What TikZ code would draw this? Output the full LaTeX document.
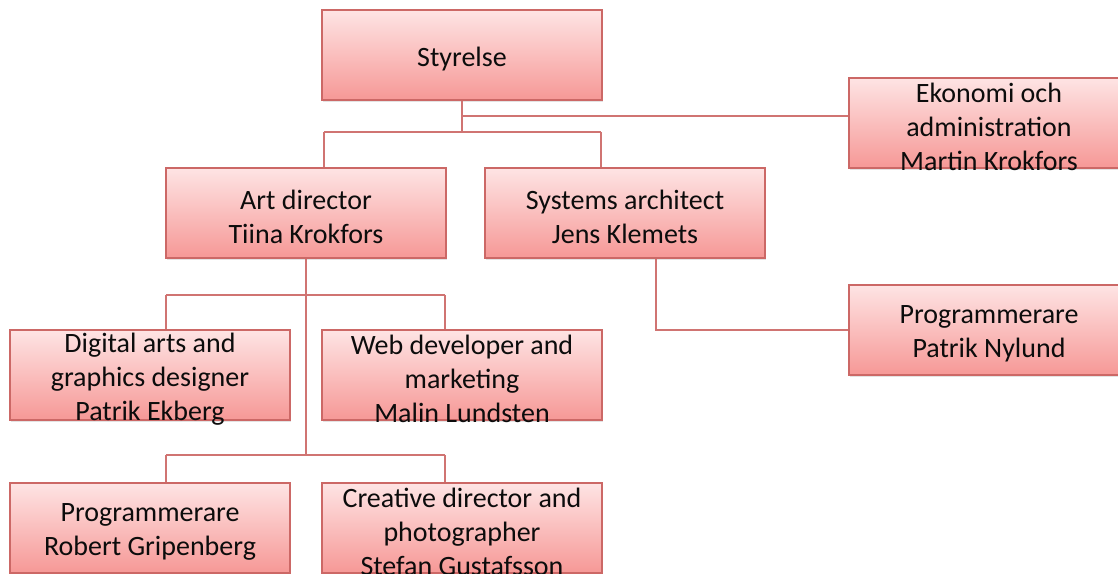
\documentclass[tikz,border=0pt]{standalone}
\usepackage{fontspec}
\setmainfont{Carlito}
\usetikzlibrary{shadows}
\definecolor{boxtop}{RGB}{254,228,228}
\definecolor{boxbot}{RGB}{246,152,150}
\definecolor{boxline}{RGB}{204,104,102}
\definecolor{connline}{RGB}{208,116,114}
\definecolor{inktext}{RGB}{12,12,12}
\tikzset{
  orgbox/.style={draw=boxline, line width=1.5pt, top color=boxtop, bottom color=boxbot,
    minimum width=280pt, minimum height=90pt, inner sep=0pt,
    drop shadow={opacity=0.22, shadow xshift=1pt, shadow yshift=-2pt}},
  orgtext/.style={text=inktext, align=center, inner sep=0pt,
    font=\fontsize{28}{34}\selectfont},
  conn/.style={draw=connline, line width=2pt}
}
\begin{document}
\begin{tikzpicture}[x=1pt, y=-1pt]
\useasboundingbox (0,0) rectangle (1118,573);
\clip (0,0) rectangle (1118,573);
\fill[white] (0,0) rectangle (1118,573);

% junction points of the tree
\coordinate (jtop) at (462,132);
\coordinate (jtopL) at (324,132);
\coordinate (jtopR) at (601,132);
\coordinate (jeko) at (462,116);
\coordinate (jmidL) at (166,295);
\coordinate (jmidR) at (445,295);
\coordinate (jlow) at (306,455);
\coordinate (jlowL) at (166,455);
\coordinate (jlowR) at (445,455);
\coordinate (jsys) at (656,330);

% boxes
\node[orgbox] (sty) at (462,55) {};
\node[orgbox] (eko) at (989,123) {};
\node[orgbox] (ad)  at (306,213) {};
\node[orgbox] (sys) at (625,213) {};
\node[orgbox] (nyl) at (989,330) {};
\node[orgbox] (dig) at (150,375) {};
\node[orgbox] (web) at (462,375) {};
\node[orgbox] (rob) at (150,528) {};
\node[orgbox] (cre) at (462,528) {};

% connectors
\draw[conn] (sty.south) -- (jtop);
\draw[conn] (jtopL) -- (jtopR);
\draw[conn] (jtopL) -- (jtopL |- ad.north);
\draw[conn] (jtopR) -- (jtopR |- sys.north);
\draw[conn] (jeko) -- (jeko -| eko.west);
\draw[conn] (ad.south) -- (jlow);
\draw[conn] (jmidL) -- (jmidR);
\draw[conn] (jmidL) -- (jmidL |- dig.north);
\draw[conn] (jmidR) -- (jmidR |- web.north);
\draw[conn] (jlowL) -- (jlowR);
\draw[conn] (jlowL) -- (jlowL |- rob.north);
\draw[conn] (jlowR) -- (jlowR |- cre.north);
\draw[conn] (sys.south -| jsys) -- (jsys) -- (nyl.west);

% labels
\node[orgtext] at ([yshift=-4pt]sty.center) {Styrelse};
\node[orgtext] at ([yshift=-4pt]eko.center) {Ekonomi och\\administration\\Martin Krokfors};
\node[orgtext] at ([yshift=-4pt]ad.center) {Art director\\Tiina Krokfors};
\node[orgtext] at ([yshift=-4pt]sys.center) {Systems architect\\Jens Klemets};
\node[orgtext] at ([yshift=-4pt]nyl.center) {Programmerare\\Patrik Nylund};
\node[orgtext] at ([yshift=-4pt]dig.center) {Digital arts and\\graphics designer\\Patrik Ekberg};
\node[orgtext] at ([yshift=-4pt]web.center) {Web developer and\\marketing\\Malin Lundsten};
\node[orgtext] at ([yshift=-4pt]rob.center) {Programmerare\\Robert Gripenberg};
\node[orgtext] at ([yshift=-4pt]cre.center) {Creative director and\\photographer\\Stefan Gustafsson};
\end{tikzpicture}
\end{document}
